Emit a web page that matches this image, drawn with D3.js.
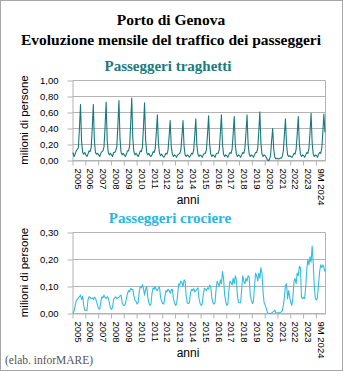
<!DOCTYPE html>
<html>
<head>
<meta charset="utf-8">
<script src="https://cdn.jsdelivr.net/npm/d3@7"></script>
<style>
  body { margin: 0; background: #fff; }
  svg { display: block; }
</style>
</head>
<body>
<svg id="chart" width="343" height="371"></svg>
<script>
// Category labels, one per year (the last year covers nine months only)
const yearLabels = ["2005","2006","2007","2008","2009","2010","2011","2012","2013","2014",
  "2015","2016","2017","2018","2019","2020","2021","2022","2023","9M 2024"];

const ferryTicks = [0, 0.2, 0.4, 0.6, 0.8, 1.0];
const cruiseTicks = [0, 0.1, 0.2, 0.3];

// Ferry passengers, millions per month (Jan..Dec of each year)
const ferryPassengers = [
  [0.10, 0.05, 0.08, 0.12, 0.14, 0.16, 0.40, 0.70, 0.24, 0.10, 0.08, 0.10],
  [0.07, 0.05, 0.08, 0.12, 0.11, 0.16, 0.40, 0.70, 0.25, 0.10, 0.08, 0.09],
  [0.07, 0.05, 0.09, 0.11, 0.12, 0.17, 0.42, 0.73, 0.26, 0.10, 0.07, 0.09],
  [0.07, 0.05, 0.10, 0.10, 0.12, 0.17, 0.44, 0.75, 0.27, 0.10, 0.07, 0.09],
  [0.07, 0.05, 0.08, 0.12, 0.12, 0.18, 0.46, 0.78, 0.28, 0.11, 0.07, 0.09],
  [0.07, 0.05, 0.08, 0.12, 0.11, 0.17, 0.42, 0.72, 0.26, 0.10, 0.07, 0.09],
  [0.06, 0.05, 0.07, 0.11, 0.10, 0.15, 0.34, 0.57, 0.21, 0.09, 0.06, 0.08],
  [0.06, 0.04, 0.06, 0.09, 0.08, 0.13, 0.30, 0.50, 0.18, 0.08, 0.05, 0.07],
  [0.06, 0.04, 0.07, 0.08, 0.09, 0.13, 0.30, 0.50, 0.18, 0.07, 0.05, 0.07],
  [0.06, 0.04, 0.06, 0.09, 0.08, 0.13, 0.31, 0.52, 0.19, 0.08, 0.05, 0.07],
  [0.06, 0.04, 0.07, 0.09, 0.09, 0.14, 0.33, 0.56, 0.20, 0.08, 0.05, 0.07],
  [0.06, 0.04, 0.08, 0.09, 0.09, 0.14, 0.34, 0.57, 0.20, 0.08, 0.05, 0.07],
  [0.06, 0.04, 0.07, 0.10, 0.09, 0.14, 0.33, 0.55, 0.20, 0.08, 0.05, 0.07],
  [0.06, 0.04, 0.07, 0.10, 0.09, 0.15, 0.34, 0.57, 0.21, 0.08, 0.05, 0.07],
  [0.06, 0.04, 0.07, 0.10, 0.10, 0.15, 0.36, 0.61, 0.22, 0.08, 0.05, 0.07],
  [0.06, 0.04, 0.01, 0.00, 0.01, 0.06, 0.24, 0.40, 0.14, 0.04, 0.02, 0.03],
  [0.02, 0.02, 0.03, 0.03, 0.05, 0.12, 0.32, 0.52, 0.20, 0.07, 0.05, 0.06],
  [0.05, 0.04, 0.06, 0.09, 0.08, 0.14, 0.33, 0.55, 0.21, 0.08, 0.05, 0.07],
  [0.06, 0.04, 0.07, 0.10, 0.09, 0.15, 0.35, 0.59, 0.22, 0.08, 0.05, 0.07],
  [0.06, 0.04, 0.08, 0.10, 0.09, 0.15, 0.35, 0.58, 0.35]
];

// Cruise passengers, millions per month (Jan..Dec of each year)
const cruisePassengers = [
  [0.000, 0.010, 0.028, 0.048, 0.052, 0.058, 0.062, 0.068, 0.052, 0.064, 0.030, 0.012],
  [0.012, 0.010, 0.050, 0.062, 0.060, 0.055, 0.058, 0.052, 0.060, 0.057, 0.045, 0.030],
  [0.018, 0.016, 0.042, 0.062, 0.058, 0.068, 0.060, 0.055, 0.062, 0.058, 0.040, 0.020],
  [0.015, 0.022, 0.052, 0.058, 0.062, 0.055, 0.058, 0.060, 0.066, 0.068, 0.040, 0.031],
  [0.030, 0.036, 0.055, 0.074, 0.085, 0.080, 0.093, 0.088, 0.090, 0.065, 0.050, 0.045],
  [0.035, 0.040, 0.080, 0.100, 0.095, 0.107, 0.093, 0.068, 0.090, 0.100, 0.062, 0.040],
  [0.030, 0.035, 0.075, 0.095, 0.090, 0.100, 0.088, 0.085, 0.095, 0.098, 0.060, 0.045],
  [0.037, 0.035, 0.060, 0.085, 0.080, 0.090, 0.085, 0.075, 0.088, 0.090, 0.055, 0.040],
  [0.030, 0.035, 0.070, 0.110, 0.105, 0.120, 0.115, 0.100, 0.125, 0.118, 0.065, 0.040],
  [0.037, 0.040, 0.075, 0.090, 0.085, 0.093, 0.080, 0.085, 0.090, 0.095, 0.055, 0.038],
  [0.030, 0.035, 0.070, 0.093, 0.090, 0.085, 0.095, 0.090, 0.105, 0.100, 0.060, 0.040],
  [0.035, 0.040, 0.090, 0.120, 0.110, 0.100, 0.125, 0.110, 0.155, 0.130, 0.070, 0.045],
  [0.030, 0.035, 0.085, 0.120, 0.115, 0.105, 0.130, 0.110, 0.140, 0.125, 0.065, 0.040],
  [0.040, 0.040, 0.090, 0.140, 0.120, 0.110, 0.130, 0.120, 0.140, 0.135, 0.070, 0.050],
  [0.037, 0.045, 0.100, 0.150, 0.140, 0.120, 0.150, 0.130, 0.170, 0.150, 0.080, 0.040],
  [0.030, 0.020, 0.005, 0.000, 0.000, 0.000, 0.002, 0.005, 0.008, 0.012, 0.003, 0.002],
  [0.003, 0.002, 0.004, 0.006, 0.010, 0.030, 0.060, 0.105, 0.110, 0.055, 0.085, 0.060],
  [0.040, 0.030, 0.060, 0.120, 0.130, 0.110, 0.150, 0.140, 0.175, 0.170, 0.060, 0.055],
  [0.060, 0.055, 0.100, 0.165, 0.200, 0.180, 0.210, 0.190, 0.250, 0.190, 0.100, 0.055],
  [0.050, 0.060, 0.110, 0.155, 0.180, 0.170, 0.180, 0.170, 0.155]
];

const svg = d3.select("#chart");
const W = 343, H = 371;
const sans = "'Liberation Sans', Arial, sans-serif";
const serif = "'Liberation Serif', 'Times New Roman', serif";
const gridColor = "#b3b3b3";

svg.append("rect").attr("x", 0.5).attr("y", 0.5).attr("width", W - 1).attr("height", H - 1)
  .attr("fill", "#fff").attr("stroke", "#a6a6a6");

// Main title
svg.append("text").attr("x", 171).attr("y", 25).attr("text-anchor", "middle")
  .attr("font-family", serif).attr("font-weight", "bold").attr("font-size", 15.5)
  .text("Porto di Genova");
svg.append("text").attr("x", 171).attr("y", 45).attr("text-anchor", "middle")
  .attr("font-family", serif).attr("font-weight", "bold").attr("font-size", 15.5)
  .text("Evoluzione mensile del traffico dei passeggeri");

svg.append("text").attr("x", 5).attr("y", 364)
  .attr("font-family", serif).attr("font-size", 11.5).attr("fill", "#555")
  .text("(elab. inforMARE)");

function drawPanel(cfg) {
  const values = cfg.rows.flat();
  const n = values.length;
  const left = 73, right = 325;
  const x = d3.scaleLinear().domain([0, n]).range([left - 0.5, right + 0.5]);
  const y = d3.scaleLinear().domain([0, cfg.max]).range([cfg.bottom + 0.5, cfg.top + 0.5]);
  const g = svg.append("g");

  // Title of the panel
  g.append("text").attr("x", cfg.titleX).attr("y", cfg.titleY).attr("text-anchor", "middle")
    .attr("font-family", serif).attr("font-weight", "bold").attr("font-size", 15)
    .attr("fill", cfg.titleColor).text(cfg.title);

  // Horizontal gridlines with small ticks left of the axis
  const yAxis = d3.axisLeft(y).tickValues(cfg.ticks).tickSize(5).tickSizeOuter(0).tickPadding(9)
    .tickFormat(d => d3.format(".2f")(d).replace(".", ","));
  const ya = g.append("g").attr("transform", `translate(${left - 0.5},0)`).call(yAxis);
  ya.select(".domain").attr("stroke", gridColor);
  ya.selectAll(".tick line").attr("stroke", gridColor);
  ya.selectAll(".tick text").attr("font-family", sans).attr("font-size", 9.5).attr("fill", "#000");

  g.append("g").selectAll("line").data(cfg.ticks).join("line")
    .attr("x1", left - 0.5).attr("x2", right + 0.5)
    .attr("y1", d => y(d)).attr("y2", d => y(d))
    .attr("stroke", gridColor);
  g.append("line").attr("x1", right + 0.5).attr("x2", right + 0.5)
    .attr("y1", y(cfg.max)).attr("y2", y(0)).attr("stroke", gridColor);

  // Year ticks on the category axis, labels turned vertical
  const xAxis = d3.axisBottom(x).tickValues(d3.range(0, n, 12)).tickSize(5).tickSizeOuter(0)
    .tickFormat((d, i) => yearLabels[i]);
  const xa = g.append("g").attr("transform", `translate(0,${y(0)})`).call(xAxis);
  xa.select(".domain").attr("stroke", gridColor);
  xa.selectAll(".tick line").attr("stroke", gridColor);
  xa.selectAll(".tick text")
    .attr("font-family", sans).attr("font-size", 9.5).attr("fill", "#000")
    .attr("text-anchor", "start").attr("transform", "rotate(90)")
    .attr("x", 8).attr("y", -5).attr("dy", "0.35em");

  // Axis titles
  g.append("text").attr("transform", `translate(28,${(cfg.top + cfg.bottom) / 2}) rotate(-90)`)
    .attr("text-anchor", "middle").attr("font-family", sans).attr("font-size", 11.5)
    .text("milioni di persone");
  g.append("text").attr("x", 188).attr("y", cfg.anniY).attr("text-anchor", "middle")
    .attr("font-family", sans).attr("font-size", 12).text("anni");

  // Monthly series
  const line = d3.line().x((d, i) => x(i + 0.5)).y(d => y(d));
  g.append("path").datum(values).attr("d", line)
    .attr("fill", "none").attr("stroke", cfg.color).attr("stroke-width", 1.1)
    .attr("stroke-linejoin", "round");
}

drawPanel({
  rows: ferryPassengers, max: 1.0, ticks: ferryTicks, top: 80, bottom: 160,
  color: "#17797c", title: "Passeggeri traghetti", titleColor: "#1a7a7c",
  titleX: 168, titleY: 71, anniY: 204
});
drawPanel({
  rows: cruisePassengers, max: 0.3, ticks: cruiseTicks, top: 232, bottom: 313,
  color: "#33bde0", title: "Passeggeri crociere", titleColor: "#2ab6de",
  titleX: 170, titleY: 223, anniY: 357
});
</script>
</body>
</html>
